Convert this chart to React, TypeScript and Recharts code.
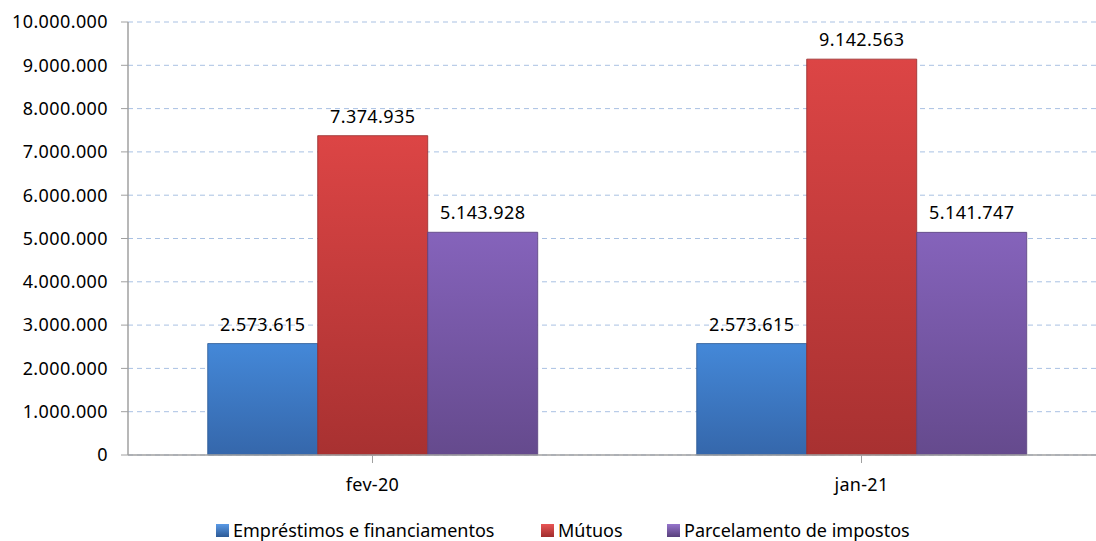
import React from "react";
import { BarChart, Bar, XAxis, YAxis, CartesianGrid, LabelList } from "recharts";

const categories = ["fev-20", "jan-21"];
const emprestimos = [2573615, 2573615];
const mutuos = [7374935, 9142563];
const parcelamento = [5143928, 5141747];
const yTicks = [0, 1000000, 2000000, 3000000, 4000000, 5000000, 6000000, 7000000, 8000000, 9000000, 10000000];

const seriesNames = ["Empréstimos e financiamentos", "Mútuos", "Parcelamento de impostos"];

const data = categories.map((c, i) => ({
  name: c,
  emp: emprestimos[i],
  mut: mutuos[i],
  par: parcelamento[i],
}));

const fmt = (v: number) => {
  const s = Math.round(v).toString();
  return s.replace(/\B(?=(\d{3})+(?!\d))/g, ".");
};

const FONT = "'Noto Sans', 'Open Sans', sans-serif";

const legendItems = [
  { name: seriesNames[0], grad: "lBlue", left: 216 },
  { name: seriesNames[1], grad: "lRed", left: 541 },
  { name: seriesNames[2], grad: "lPurple", left: 667 },
];

const labelStyle = { fill: "#000", fontSize: 18, fontFamily: FONT, letterSpacing: 0.4 };

export default function App() {
  return (
    <div style={{ position: "absolute", left: 0, top: 0, width: 1096, height: 541, overflow: "hidden", background: "#fff" }}>
      <div style={{ position: "relative", width: 1106, height: 541 }}>
        <BarChart
          width={1106}
          height={541}
          data={data}
          margin={{ top: 22, right: 0, left: 0, bottom: 56 }}
          barCategoryGap="16.3%"
          barGap={0}
        >
          <defs>
            <linearGradient id="gBlue" x1="0" y1="0" x2="0" y2="1">
              <stop offset="0%" stopColor="#4488d8" />
              <stop offset="100%" stopColor="#3567ab" />
            </linearGradient>
            <linearGradient id="gRed" x1="0" y1="0" x2="0" y2="1">
              <stop offset="0%" stopColor="#dc4545" />
              <stop offset="100%" stopColor="#a83131" />
            </linearGradient>
            <linearGradient id="gPurple" x1="0" y1="0" x2="0" y2="1">
              <stop offset="0%" stopColor="#8563bb" />
              <stop offset="100%" stopColor="#654a8d" />
            </linearGradient>
          </defs>
          <CartesianGrid vertical={false} stroke="#a9c1e3" strokeDasharray="5 4" />
          <XAxis
            dataKey="name"
            axisLine={{ stroke: "#a0a0a0", strokeWidth: 1.5 }}
            tickLine={{ stroke: "#a0a0a0" }}
            tick={{ fill: "#000", fontSize: 18, fontFamily: FONT, letterSpacing: 0.3 }}
            tickSize={8}
            tickMargin={15}
            interval={0}
            height={30}
            padding={{ left: 0, right: 0 }}
          />
          <YAxis
            domain={[0, 10000000]}
            ticks={yTicks}
            tickFormatter={fmt}
            axisLine={{ stroke: "#a0a0a0", strokeWidth: 1.5 }}
            tickLine={{ stroke: "#a0a0a0" }}
            tick={{ fill: "#000", fontSize: 18, fontFamily: FONT, letterSpacing: 0.4 }}
            tickSize={7}
            tickMargin={13}
            width={128}
            interval={0}
          />
          <Bar dataKey="emp" fill="url(#gBlue)" stroke="#2d5a96" strokeWidth={0.8} isAnimationActive={false}>
            <LabelList dataKey="emp" position="top" offset={13} formatter={fmt} style={labelStyle} />
          </Bar>
          <Bar dataKey="mut" fill="url(#gRed)" stroke="#962a2a" strokeWidth={0.8} isAnimationActive={false}>
            <LabelList dataKey="mut" position="top" offset={13} formatter={fmt} style={labelStyle} />
          </Bar>
          <Bar dataKey="par" fill="url(#gPurple)" stroke="#58407c" strokeWidth={0.8} isAnimationActive={false}>
            <LabelList dataKey="par" position="top" offset={13} formatter={fmt} style={labelStyle} />
          </Bar>
        </BarChart>
        <svg width={0} height={0} style={{ position: "absolute" }}>
          <defs>
            <linearGradient id="lBlue" x1="0" y1="0" x2="0" y2="1">
              <stop offset="0%" stopColor="#5a9ae6" />
              <stop offset="100%" stopColor="#2d5a96" />
            </linearGradient>
            <linearGradient id="lRed" x1="0" y1="0" x2="0" y2="1">
              <stop offset="0%" stopColor="#e85555" />
              <stop offset="100%" stopColor="#a02c2c" />
            </linearGradient>
            <linearGradient id="lPurple" x1="0" y1="0" x2="0" y2="1">
              <stop offset="0%" stopColor="#9675cc" />
              <stop offset="100%" stopColor="#58407c" />
            </linearGradient>
          </defs>
        </svg>
        {legendItems.map((it) => (
          <div
            key={it.name}
            style={{
              position: "absolute",
              left: it.left,
              top: 518,
              display: "flex",
              alignItems: "center",
              fontFamily: FONT,
              fontSize: 18,
              color: "#000",
              whiteSpace: "nowrap",
              lineHeight: "24px",
            }}
          >
            <svg width={13} height={13} style={{ marginRight: 4 }}>
              <rect x={0} y={0} width={13} height={13} fill={`url(#${it.grad})`} />
            </svg>
            <span>{it.name}</span>
          </div>
        ))}
      </div>
    </div>
  );
}
